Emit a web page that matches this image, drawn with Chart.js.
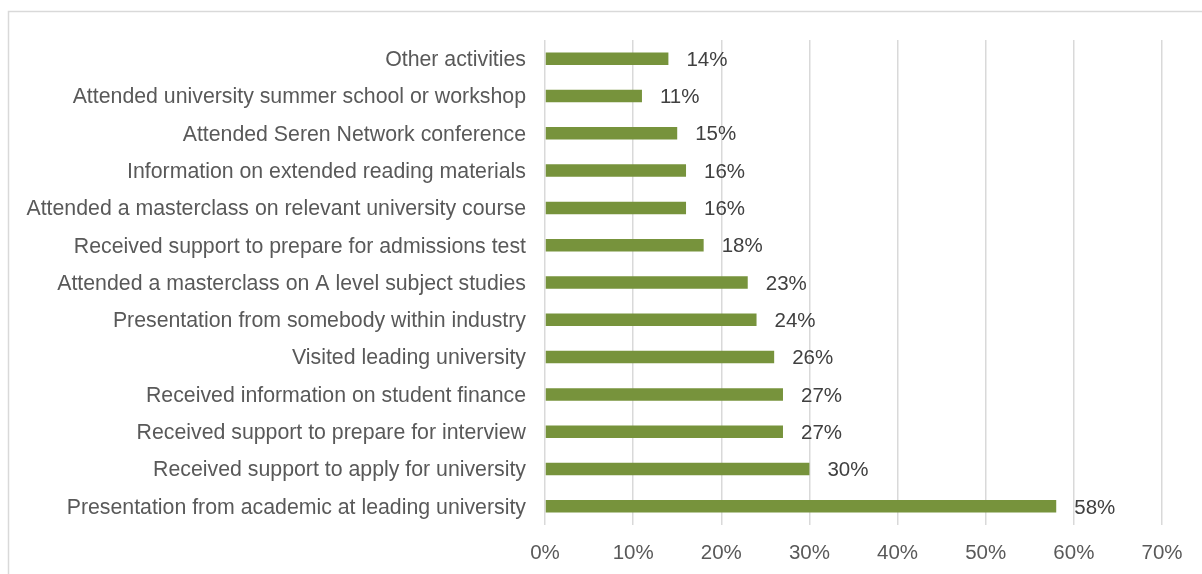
<!DOCTYPE html>
<html>
<head>
<meta charset="utf-8">
<script src="https://cdn.jsdelivr.net/npm/chart.js@4/dist/chart.umd.min.js"></script>
<style>
	html, body { margin: 0; padding: 0; background: #fff; }
	#wrap { width: 1202px; height: 574px; position: relative; }
</style>
</head>
<body>
<div id="wrap"><canvas id="activityChart" width="1202" height="574"></canvas></div>
<script>
// activity categories, top to bottom as shown
var categories = [
	'Other activities',
	'Attended university summer school or workshop',
	'Attended Seren Network conference',
	'Information on extended reading materials',
	'Attended a masterclass on relevant university course',
	'Received support to prepare for admissions test',
	'Attended a masterclass on A level subject studies',
	'Presentation from somebody within industry',
	'Visited leading university',
	'Received information on student finance',
	'Received support to prepare for interview',
	'Received support to apply for university',
	'Presentation from academic at leading university'
];
var percentages = [14, 11, 15, 16, 16, 18, 23, 24, 26, 27, 27, 30, 58];
var xTicks = [0, 10, 20, 30, 40, 50, 60, 70];

var barColor = '#77933C';
var textColor = '#595959';
var gridColor = '#D9D9D9';

// outer frame, as in the original (only left and top edges are visible)
var framePlugin = {
	id: 'frame',
	beforeDraw: function(chart) {
		var ctx = chart.ctx;
		ctx.save();
		ctx.strokeStyle = gridColor;
		ctx.lineWidth = 1.5;
		ctx.beginPath();
		ctx.moveTo(8.5, 700);
		ctx.lineTo(8.5, 11.5);
		ctx.lineTo(1300, 11.5);
		ctx.stroke();
		ctx.restore();
	}
};

// value labels at the end of each bar
var valueLabels = {
	id: 'valueLabels',
	afterDatasetsDraw: function(chart) {
		var ctx = chart.ctx;
		var meta = chart.getDatasetMeta(0);
		ctx.save();
		ctx.fillStyle = '#404040';
		ctx.font = '20.5px "Liberation Sans", Arial, sans-serif';
		ctx.textAlign = 'left';
		ctx.textBaseline = 'middle';
		meta.data.forEach(function(bar, i) {
			ctx.fillText(percentages[i] + '%', bar.x + 18, bar.y + 1.5);
		});
		ctx.restore();
	}
};

var ctx = document.getElementById('activityChart').getContext('2d');
var activityChart = new Chart(ctx, {
	type: 'bar',
	data: {
		labels: categories,
		datasets: [{
			data: percentages,
			backgroundColor: barColor,
			borderWidth: 0,
			barPercentage: 0.335,
			categoryPercentage: 1
		}]
	},
	options: {
		indexAxis: 'y',
		responsive: false,
		animation: false,
		layout: { padding: { top: 40, right: 40, left: 0, bottom: 0 } },
		plugins: {
			legend: { display: false },
			tooltip: { enabled: false }
		},
		scales: {
			x: {
				min: 0,
				max: 70,
				afterBuildTicks: function(scale) {
					scale.ticks = xTicks.map(function(v) { return { value: v }; });
				},
				afterFit: function(scale) { scale.height = 49; },
				grid: { color: gridColor, lineWidth: 1.5, drawTicks: false },
				border: { display: false },
				ticks: {
					color: textColor,
					padding: 16,
					font: { family: '"Liberation Sans", Arial, sans-serif', size: 20.5 },
					callback: function(v) { return v + '%'; }
				}
			},
			y: {
				afterFit: function(scale) { scale.width = 545; },
				grid: { display: false, drawTicks: false },
				border: { display: false },
				ticks: {
					color: textColor,
					padding: 19,
					labelOffset: 1.5,
					autoSkip: false,
					font: { family: '"Liberation Sans", Arial, sans-serif', size: 21.3 }
				}
			}
		}
	},
	plugins: [framePlugin, valueLabels]
});
</script>
</body>
</html>
